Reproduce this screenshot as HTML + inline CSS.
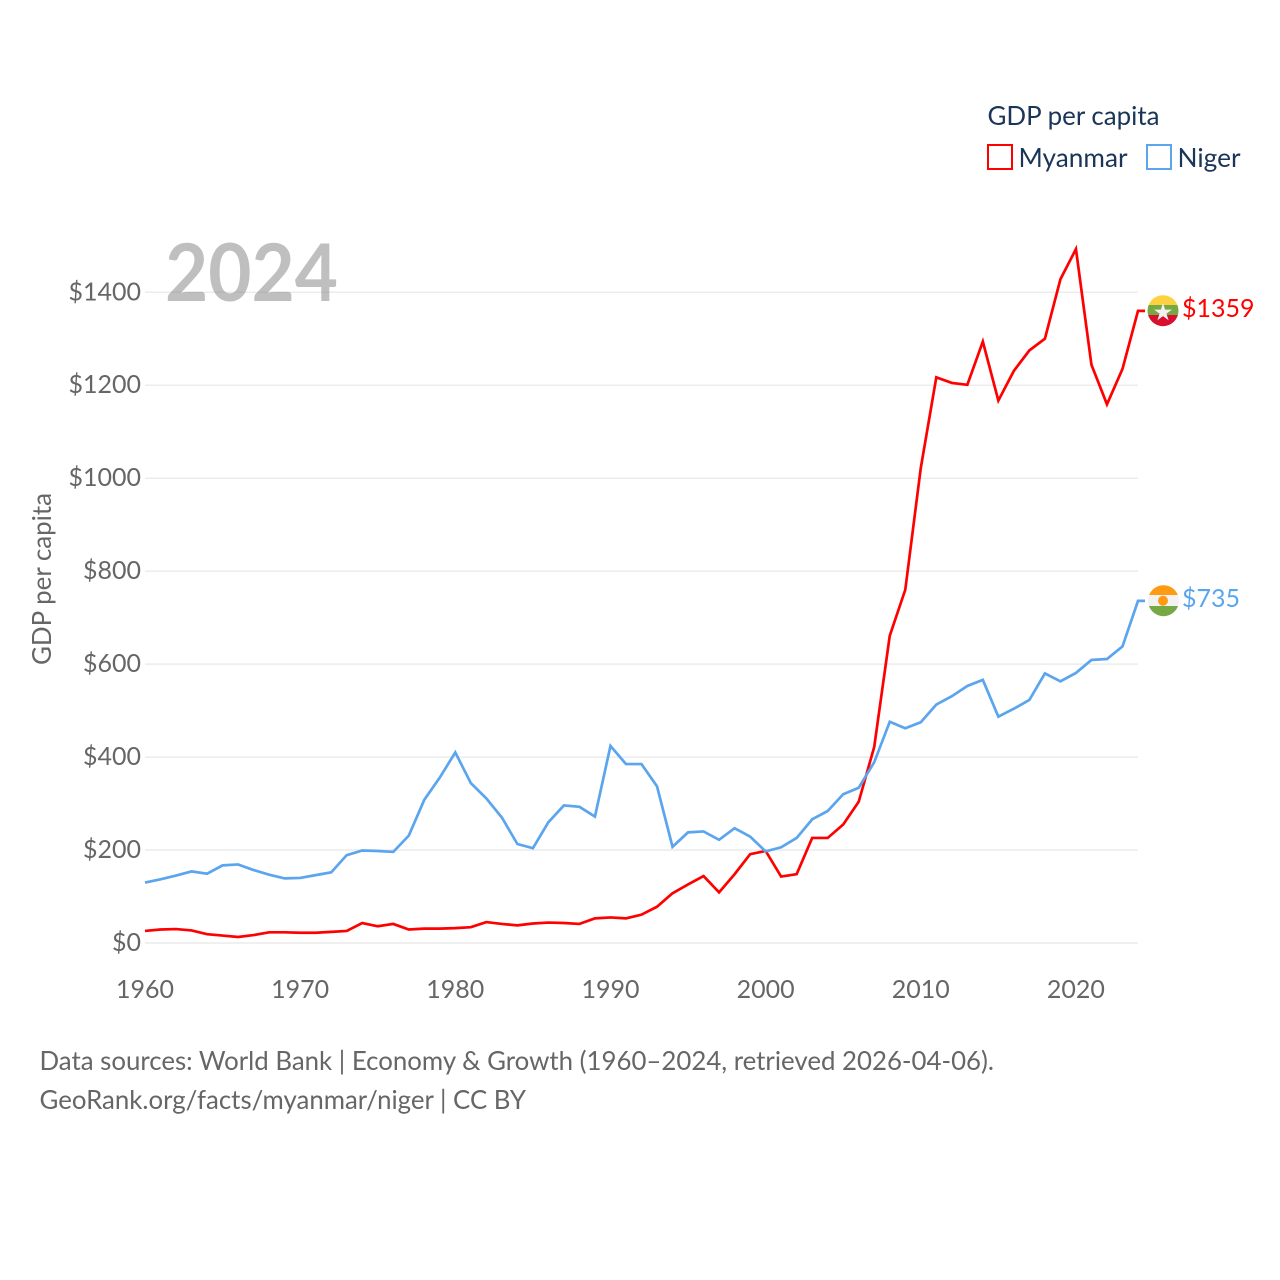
<!DOCTYPE html>
<html lang="en">
<head>
<meta charset="utf-8">
<title>GDP per capita: Myanmar and Niger</title>
<style>
html,body{margin:0;padding:0;background:#fff;width:1280px;height:1280px;overflow:hidden}
svg{display:block}
text{font-family:"Lato","Liberation Sans",sans-serif}
</style>
</head>
<body>
<svg id="chart" xmlns="http://www.w3.org/2000/svg" width="1280" height="1280" viewBox="0 0 1280 1280">
  <defs>
    <clipPath id="flag-clip-mm"><circle cx="1163" cy="310.7" r="15.5"/></clipPath>
    <clipPath id="flag-clip-ne"><circle cx="1163.5" cy="600.7" r="15.5"/></clipPath>
  </defs>
  <rect width="1280" height="1280" fill="#fff"/>
  <g id="grid"></g>
  <g id="yticks"></g>
  <g id="xticks"></g>
  <text x="165" y="301" font-size="80" font-weight="700" fill="#8a8a8a" fill-opacity="0.55" textLength="173" lengthAdjust="spacingAndGlyphs">2024</text>
  <text transform="translate(51 665) rotate(-90)" font-size="26" fill="#666" textLength="172" lengthAdjust="spacingAndGlyphs">GDP per capita</text>
  <g id="series"></g>

  <g clip-path="url(#flag-clip-mm)">
    <rect x="1147" y="295" width="32" height="10" fill="#fed141"/>
    <rect x="1147" y="305" width="32" height="10" fill="#76a844"/>
    <rect x="1147" y="315" width="32" height="12" fill="#d90f2f"/>
    <polygon points="1163,303 1165.1,309.6 1172,309.6 1166.4,313.6 1168.6,320.2 1163,316.1 1157.4,320.2 1159.6,313.6 1154,309.6 1160.9,309.6" fill="#f2f2f2"/>
  </g>
  <g clip-path="url(#flag-clip-ne)">
    <rect x="1147" y="585" width="33" height="10" fill="#ff9a14"/>
    <rect x="1147" y="595" width="33" height="11" fill="#f2f2f2"/>
    <rect x="1147" y="606" width="33" height="11" fill="#76a844"/>
    <circle cx="1163" cy="600.7" r="5" fill="#ff9a14"/>
  </g>
  <g id="endlabels"></g>

  <g>
    <text x="987.5" y="125" font-size="26" fill="#1a3557" textLength="172" lengthAdjust="spacingAndGlyphs">GDP per capita</text>
    <g>
      <rect x="988" y="145" width="24" height="24" fill="none" stroke="#ff0000" stroke-width="2"/>
      <text x="1018.5" y="167" font-size="26" fill="#1a3557" textLength="109" lengthAdjust="spacingAndGlyphs">Myanmar</text>
    </g>
    <g>
      <rect x="1147" y="145" width="24" height="24" fill="none" stroke="#5ba5ee" stroke-width="2"/>
      <text x="1177.5" y="167" font-size="26" fill="#1a3557" textLength="63" lengthAdjust="spacingAndGlyphs">Niger</text>
    </g>
  </g>

  <text x="39.5" y="1070" font-size="26" fill="#666" textLength="954.5" lengthAdjust="spacingAndGlyphs">Data sources: World Bank | Economy &amp; Growth (1960–2024, retrieved 2026-04-06).</text>
  <text x="39.5" y="1109" font-size="26" fill="#666" textLength="486.5" lengthAdjust="spacingAndGlyphs">GeoRank.org/facts/myanmar/niger | CC BY</text>
</svg>
<script>
const firstYear = 1960;
const lastYear = 2024;
const yTickValues = [0, 200, 400, 600, 800, 1000, 1200, 1400];
const yTickLabels = ["$0", "$200", "$400", "$600", "$800", "$1000", "$1200", "$1400"];
const xTickValues = [1960, 1970, 1980, 1990, 2000, 2010, 2020];
const xTickLabels = ["1960", "1970", "1980", "1990", "2000", "2010", "2020"];
const myanmarValues = [26, 29, 30, 27, 19, 16, 13, 17, 23, 23, 22, 22, 24, 26, 43, 36, 41, 29, 31, 31, 32, 34, 45, 41, 38, 42, 44, 43, 41, 53, 55, 53, 61, 78, 107, 126, 144, 109, 148, 191, 198, 143, 148, 226, 226, 255, 304, 422, 661, 760, 1022, 1217, 1205, 1201, 1294, 1167, 1231, 1275, 1300, 1428, 1493, 1244, 1159, 1235, 1360];
const nigerValues = [130, 137, 145, 154, 149, 167, 169, 157, 147, 139, 140, 146, 152, 189, 199, 198, 196, 231, 308, 356, 410, 344, 311, 270, 213, 204, 260, 296, 293, 272, 424, 385, 385, 337, 207, 238, 240, 222, 247, 229, 197, 206, 226, 266, 284, 320, 334, 389, 476, 462, 475, 513, 531, 553, 566, 487, 504, 523, 580, 563, 581, 609, 611, 638, 736];
const myanmarEndLabel = "$1359";
const nigerEndLabel = "$735";

const NS = "http://www.w3.org/2000/svg";
const plotLeft = 145, plotRight = 1138, plotZero = 943, pxPerDollar = 0.4648;
function xScale(year) { return plotLeft + (year - firstYear) * (plotRight - plotLeft) / (lastYear - firstYear); }
function yScale(v) { return plotZero - v * pxPerDollar; }
function make(tag, attrs, parent, txt) {
  const el = document.createElementNS(NS, tag);
  for (const k in attrs) el.setAttribute(k, attrs[k]);
  if (txt !== undefined) el.textContent = txt;
  parent.appendChild(el);
  return el;
}
const grid = document.getElementById("grid");
const yticks = document.getElementById("yticks");
const xticks = document.getElementById("xticks");
const series = document.getElementById("series");
const endlabels = document.getElementById("endlabels");

yTickValues.forEach(function (v, i) {
  const line = make("line", { x1: plotLeft, x2: plotRight, y1: yScale(v), y2: yScale(v), stroke: "#ececec", "stroke-width": 1.5 }, grid);
  
  
  const t = make("text", { x: 141, y: yScale(v) + 8, "text-anchor": "end", "font-size": 25, fill: "#666" }, yticks, yTickLabels[i]);
  
  
});
xTickValues.forEach(function (v, i) {
  const t = make("text", { x: xScale(v), y: 998, "text-anchor": "middle", "font-size": 25, fill: "#666" }, xticks, xTickLabels[i]);
  
  
});
function pathFor(values) {
  const pts = values.map(function (v, i) { return xScale(firstYear + i).toFixed(2) + "," + yScale(v).toFixed(2); });
  pts.push((plotRight + 7) + "," + yScale(values[values.length - 1]).toFixed(2));
  return "M" + pts.join("L");
}
const nigerLine = make("path", { d: pathFor(nigerValues), fill: "none", stroke: "#5ba5ee", "stroke-width": 2.7, "stroke-linejoin": "miter" }, series);


const myanmarLine = make("path", { d: pathFor(myanmarValues), fill: "none", stroke: "#ff0000", "stroke-width": 2.7, "stroke-linejoin": "miter" }, series);


series.insertBefore(myanmarLine, nigerLine);

const mmLabel = make("text", { x: 1182, y: yScale(myanmarValues[myanmarValues.length - 1]) + 6, "font-size": 25, fill: "#ff0000" }, endlabels, myanmarEndLabel);


const neLabel = make("text", { x: 1182, y: yScale(nigerValues[nigerValues.length - 1]) + 6, "font-size": 25, fill: "#5ba5ee" }, endlabels, nigerEndLabel);


</script>
</body>
</html>
